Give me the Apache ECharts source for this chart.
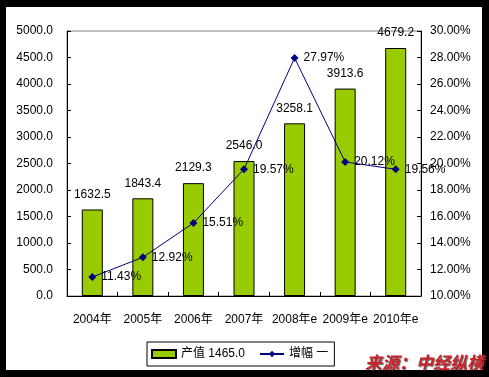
<!DOCTYPE html>
<html>
<head>
<meta charset="utf-8">
<script src="https://cdn.jsdelivr.net/npm/echarts@6/dist/echarts.min.js"></script>
<style>
  html, body { margin: 0; padding: 0; background: #000; }
  #chart { width: 489px; height: 377px; }
</style>
</head>
<body>
<div id="chart"></div>
<script>
const years = ['2004年', '2005年', '2006年', '2007年', '2008年e', '2009年e', '2010年e'];
const output = [1632.5, 1843.4, 2129.3, 2546.0, 3258.1, 3913.6, 4679.2];
const growth = [11.43, 12.92, 15.51, 19.57, 27.97, 20.12, 19.56];
const barName = '产值 1465.0';
const lineName = '增幅 一';

const fontFamily = '"Liberation Sans", Arial, "Noto Sans CJK SC", sans-serif';
const chart = echarts.init(document.getElementById('chart'));

chart.setOption({
  backgroundColor: '#000',
  animation: false,
  textStyle: { fontFamily },
  graphic: [
    {
      type: 'rect',
      z: -10,
      shape: { x: 6, y: 7, width: 476, height: 363 },
      style: { fill: '#fff' },
    },
    {
      type: 'text',
      left: 365,
      top: 354,
      z: 10,
      style: {
        text: '来源：中经纵横',
        fill: '#c8232b',
        font: 'italic bold 17px "Noto Sans CJK SC", sans-serif',
        textShadowColor: 'rgba(0,0,0,0.6)',
        textShadowBlur: 1,
        textShadowOffsetX: 1,
        textShadowOffsetY: 1,
      },
    },
  ],
  grid: {
    left: 67,
    right: 68,
    top: 31,
    bottom: 81,
    show: true,
    borderColor: '#808080',
    borderWidth: 1,
    backgroundColor: '#fff',
  },
  legend: {
    left: 147,
    top: 342,
    padding: [6, 6, 6, 4],
    itemGap: 14,
    itemWidth: 24,
    itemHeight: 8,
    borderColor: '#000',
    borderWidth: 1,
    backgroundColor: '#fff',
    textStyle: { fontSize: 12, color: '#000', fontFamily },
    data: [
      { name: barName, icon: 'rect' },
      { name: lineName },
    ],
  },
  xAxis: {
    type: 'category',
    data: years,
    axisLine: { lineStyle: { color: '#000', width: 1 } },
    axisTick: { show: true, inside: true, length: 4, alignWithLabel: false, lineStyle: { color: '#000' } },
    axisLabel: { color: '#000', fontSize: 12, margin: 18, interval: 0 },
  },
  yAxis: [
    {
      type: 'value',
      min: 0,
      max: 5000,
      interval: 500,
      splitLine: { show: false },
      axisLine: { show: true, lineStyle: { color: '#000' } },
      axisTick: { show: true, inside: true, length: 4, lineStyle: { color: '#000' } },
      axisLabel: {
        color: '#000',
        fontSize: 12,
        margin: 14,
        formatter: (v) => v.toFixed(1),
      },
    },
    {
      type: 'value',
      min: 10,
      max: 30,
      interval: 2,
      splitLine: { show: false },
      axisLine: { show: true, lineStyle: { color: '#000' } },
      axisTick: { show: true, inside: true, length: 4, lineStyle: { color: '#000' } },
      axisLabel: {
        color: '#000',
        fontSize: 12,
        margin: 9,
        formatter: (v) => v.toFixed(2) + '%',
      },
    },
  ],
  series: [
    {
      name: barName,
      type: 'bar',
      data: output,
      barWidth: 21,
      itemStyle: { color: '#99cc00', borderColor: '#000', borderWidth: 1 },
      label: {
        show: true,
        position: 'top',
        distance: 9,
        color: '#000',
        fontSize: 12,
        formatter: (p) => p.value.toFixed(1),
      },
    },
    {
      name: lineName,
      type: 'line',
      yAxisIndex: 1,
      data: growth,
      symbol: 'diamond',
      symbolSize: 8,
      lineStyle: { color: '#000080', width: 1 },
      itemStyle: { color: '#000080' },
      label: {
        show: true,
        position: 'right',
        distance: 5,
        color: '#000',
        fontSize: 12,
        formatter: (p) => p.value.toFixed(2) + '%',
      },
    },
  ],
});
</script>
</body>
</html>
